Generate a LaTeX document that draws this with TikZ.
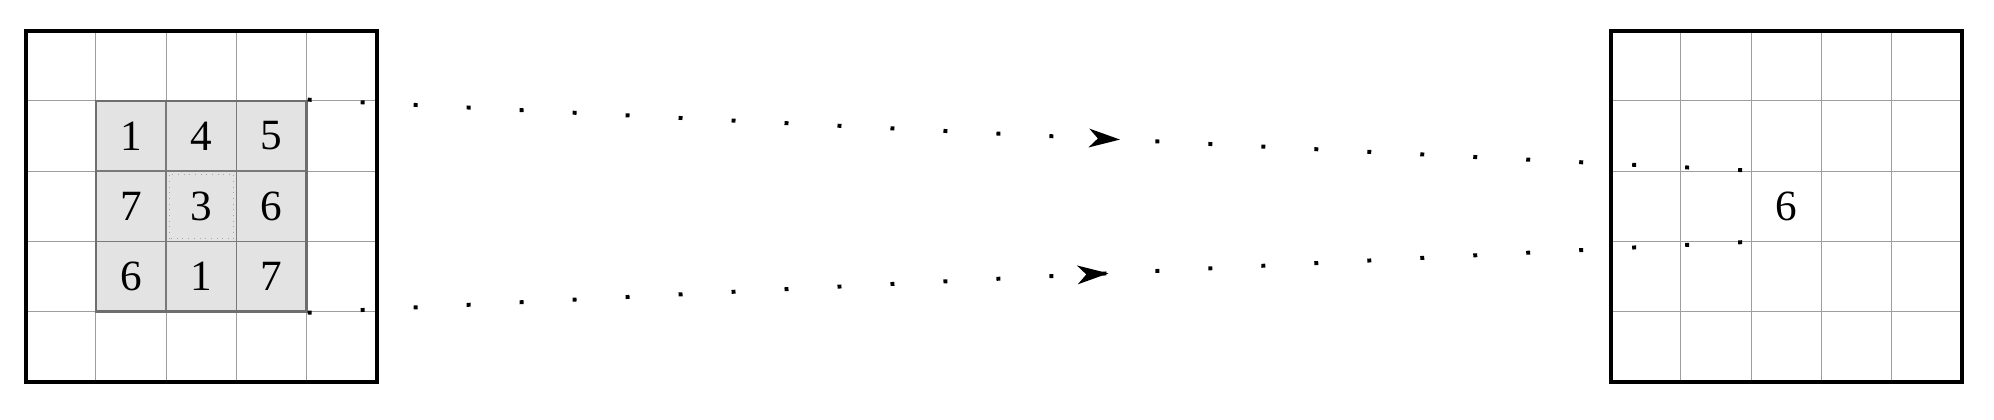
\documentclass[tikz,border=0pt]{standalone}
\usepackage{fontspec}
\setmainfont{Liberation Serif}
\usetikzlibrary{arrows.meta,decorations.markings}

\tikzset{
  cellgrid/.style={black!38, line width=0.4pt},
  winline/.style={black!52, line width=0.6pt},
  frame/.style={black, line width=1.6pt},
  link/.style={line width=1.6pt, dash pattern=on 1.6pt off 19.9pt,
    postaction={decorate},
    decoration={markings, mark=at position #1 with {\arrow{Stealth[length=12.5pt, width=7.5pt, inset=3.5pt]}}}},
}

\begin{document}
\begin{tikzpicture}[x=1cm, y=1cm, every node/.style={font=\fontsize{17.5}{20}\selectfont}]
                \useasboundingbox (-0.366,-0.546) rectangle (28.04,5.437);

                % input image with the 3x3 window
                \fill[gray!22] (1,1) rectangle (4,4);
                \draw[cellgrid] (0,0) grid (5,5);
                \draw[winline] (1,1) grid (4,4);
                \draw[black!35, line width=0.3pt, dotted] (2.04,2.04) rectangle (2.96,2.96);
                \node[draw=black!57, line width=1pt, minimum size=3cm, inner sep=0pt] (win) at (2.5,2.5) {};
                \foreach \v [count=\i from 0] in {1,4,5,7,3,6,6,1,7} {
                    \pgfmathtruncatemacro{\c}{mod(\i,3)}
                    \pgfmathtruncatemacro{\r}{div(\i,3)}
                    \node (k\i) at (1.5+\c, 3.5-\r) {\v};
                }
                \draw[frame] (0,0) rectangle (5,5);

                % output image
                \begin{scope}[xshift=22.58cm]
                    \draw[cellgrid] (0,0) grid (5,5);
                    \node[minimum size=1cm, inner sep=0pt] (out) at (2.5,2.5) {6};
                    \draw[frame] (0,0) rectangle (5,5);
                \end{scope}

                \draw[link=0.563] (win.north east) -- (out.north west);
                \draw[link=0.555] (win.south east) -- (out.south west);
            \end{tikzpicture}
\end{document}
